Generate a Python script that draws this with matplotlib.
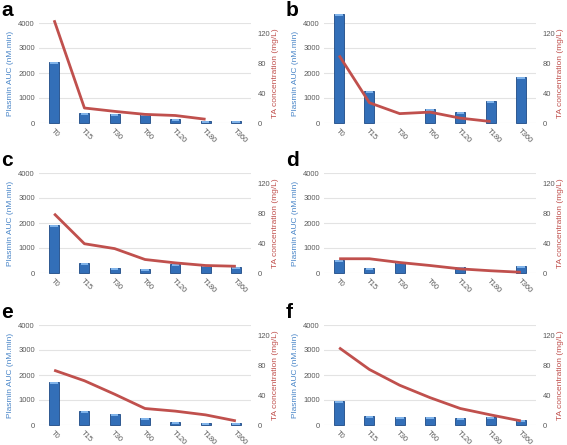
import matplotlib
matplotlib.use("Agg")
import matplotlib.pyplot as plt
import numpy as np

plt.rcParams['font.family'] = ['Liberation Sans', 'DejaVu Sans']

times = ['T0', 'T15', 'T30', 'T60', 'T120', 'T180', 'T360']

# plasmin AUC (nM.min), bars; nan = no bar
auc_a = [2430, 400, 350, 350, 180, 100, 80]
auc_b = [4370, 1270, np.nan, 560, 450, 870, 1830]
auc_c = [1910, 410, 210, 170, 360, 330, 240]
auc_d = [510, 210, 450, np.nan, 240, np.nan, 270]
auc_e = [1710, 570, 450, 290, 110, 70, 80]
auc_f = [950, 370, 310, 310, 280, 310, 210]

# TA concentration (mg/L), line; nan = no point
ta_a = [137, 20, 15.5, 11.5, 10, 5, np.nan]
ta_b = [90, 27, 12.5, 14.5, 6.5, 2, np.nan]
ta_c = [79, 39, 32.5, 18, 13.5, 10, 9]
ta_d = [19, 19, 14, 10, 5.5, 3, 1]
ta_e = [73, 59, 41, 22, 18.5, 13.5, 5.5]
ta_f = [103, 74, 53, 36.5, 22, 13.5, 5.5]

panels = [('a', auc_a, ta_a), ('b', auc_b, ta_b), ('c', auc_c, ta_c),
          ('d', auc_d, ta_d), ('e', auc_e, ta_e), ('f', auc_f, ta_f)]

W, H = 567, 445
fig = plt.figure(figsize=(W / 100, H / 100), dpi=100)

# axes boxes in pixels: left, top, right, bottom
boxes = [(39, 23, 251, 123), (324, 23, 536, 123),
         (39, 173, 251, 273), (324, 173, 536, 273),
         (39, 325, 251, 425), (324, 325, 536, 425)]

grey = '#595959'
blue_lab = '#4a86c8'
red = '#c0504d'

for (letter, auc, ta), (l, t, r, b) in zip(panels, boxes):
    ax = fig.add_axes([l / W, 1 - b / H, (r - l) / W, (b - t) / H])
    x = np.arange(len(times))
    auc = np.array(auc, dtype=float)
    bars = ax.bar(x, auc, width=0.33, color='#336fb8', edgecolor='#1d4a85',
                  linewidth=0.6, zorder=3)
    for p in bars:
        p.set_clip_on(False)
    # light cap on top of each bar
    cap = np.minimum(80, auc)
    caps = ax.bar(x, cap, bottom=auc - cap, width=0.25,
                  color='#7fb3ea', linewidth=0, zorder=3.5)
    for p in caps:
        p.set_clip_on(False)
    ax.set_ylim(0, 4000)
    ax.set_xlim(-0.5, len(times) - 0.5)
    ax.set_yticks([0, 1000, 2000, 3000, 4000])
    ax.yaxis.grid(True, color='#e3e3e3', linewidth=0.8, zorder=0)
    ax.set_axisbelow(True)
    for s in ax.spines.values():
        s.set_visible(False)
    ax.tick_params(length=0, labelsize=5.5, colors=grey, pad=3)
    ax.set_xticks(x)
    ax.set_xticklabels(times, rotation=-45, ha='left', rotation_mode='anchor')
    ax.set_ylabel('Plasmin AUC (nM.min)', color=blue_lab, fontsize=6, labelpad=3)

    ax2 = ax.twinx()
    ax2.plot(x, ta, color=red, linewidth=2, zorder=4, clip_on=False,
             solid_capstyle='butt')
    ax2.set_ylim(0, 4000 / 30)
    ax2.set_yticks([0, 40, 80, 120])
    for s in ax2.spines.values():
        s.set_visible(False)
    ax2.tick_params(length=0, labelsize=5.5, colors=grey, pad=5)
    ax2.set_ylabel('TA concentration (mg/L)', color=red, fontsize=6, labelpad=1)

    fig.text((l - 38) / W, 1 - (t - 22) / H, letter, fontsize=15,
             fontweight='bold', va='top', ha='left')

fig.savefig('out.png', dpi=100)
